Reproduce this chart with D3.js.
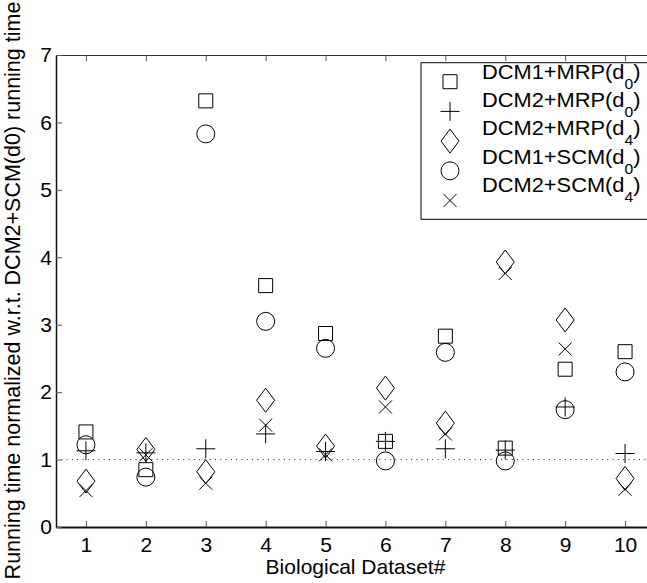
<!DOCTYPE html>
<html>
<head>
<meta charset="utf-8">
<script src="https://cdn.jsdelivr.net/npm/d3@7"></script>
<style>
  html, body { margin: 0; padding: 0; background: #fff; }
  svg { display: block; }
  text { font-family: "Liberation Sans", Arial, Helvetica, sans-serif; fill: #000; }
</style>
</head>
<body>
<svg id="chart" width="647" height="583"></svg>
<script>
// Dataset indices on the x axis
const datasets = [1, 2, 3, 4, 5, 6, 7, 8, 9, 10];
const xTicks = [1, 2, 3, 4, 5, 6, 7, 8, 9, 10];
const yTicks = [0, 1, 2, 3, 4, 5, 6, 7];

// Running times, normalized w.r.t. DCM2+SCM(d0)
const dcm1MrpD0 = [1.41, 0.85, 6.32, 3.58, 2.87, 1.27, 2.83, 1.17, 2.34, 2.60];
const dcm2MrpD0 = [1.13, 1.10, 1.16, 1.38, 1.12, 1.27, 1.16, 1.14, 1.78, 1.09];
const dcm2MrpD4 = [0.68, 1.15, 0.82, 1.88, 1.20, 2.06, 1.54, 3.93, 3.07, 0.72];
const dcm1ScmD0 = [1.22, 0.74, 5.83, 3.05, 2.65, 0.98, 2.59, 0.98, 1.74, 2.30];
const dcm2ScmD4 = [0.54, 1.07, 0.65, 1.51, 1.07, 1.78, 1.38, 3.76, 2.64, 0.56];

// Legend entries: label, subscript, marker
const legendNames = ["DCM1+MRP(d", "DCM2+MRP(d", "DCM2+MRP(d", "DCM1+SCM(d", "DCM2+SCM(d"];
const legendSubs = ["0", "0", "4", "0", "4"];
const markerKinds = ["square", "plus", "diamond", "circle", "cross"];
const seriesValues = [dcm1MrpD0, dcm2MrpD0, dcm2MrpD4, dcm1ScmD0, dcm2ScmD4];

const svg = d3.select("#chart");
const plotLeft = 56, plotRight = 655, plotTop = 55, plotBottom = 527;

const x = d3.scaleLinear().domain([0.5, 10.5]).range([plotLeft, plotRight]);
const y = d3.scaleLinear().domain([0, 7]).range([plotBottom, plotTop]);

// MATLAB-style open marker outlines centred on (cx, cy)
function markerPath(kind, cx, cy) {
  const p = d3.path();
  if (kind === "square") {
    const h = 7;
    p.rect(cx - h, cy - h, 2 * h, 2 * h);
  } else if (kind === "circle") {
    const r = 9;
    p.moveTo(cx + r, cy);
    p.arc(cx, cy, r, 0, 2 * Math.PI);
  } else if (kind === "diamond") {
    const w = 9, h = 12;
    p.moveTo(cx, cy - h);
    p.lineTo(cx + w, cy);
    p.lineTo(cx, cy + h);
    p.lineTo(cx - w, cy);
    p.closePath();
  } else if (kind === "plus") {
    const h = 9.5;
    p.moveTo(cx - h, cy); p.lineTo(cx + h, cy);
    p.moveTo(cx, cy - h); p.lineTo(cx, cy + h);
  } else if (kind === "cross") {
    const h = 6.5;
    p.moveTo(cx - h, cy - h); p.lineTo(cx + h, cy + h);
    p.moveTo(cx - h, cy + h); p.lineTo(cx + h, cy - h);
  }
  return p.toString();
}

// Reference line at normalized time 1
svg.append("line")
  .attr("x1", plotLeft).attr("x2", plotRight)
  .attr("y1", y(1)).attr("y2", y(1))
  .attr("stroke", "#222").attr("stroke-width", 1)
  .attr("stroke-dasharray", "1,4.3");

// Axes with inward ticks
const fontTick = 21;
const gx = svg.append("g").attr("transform", `translate(0,${plotBottom})`)
  .call(d3.axisBottom(x).tickValues(xTicks).tickFormat(d3.format("d"))
    .tickSizeInner(-6).tickSizeOuter(0).tickPadding(10));
const gxTop = svg.append("g").attr("transform", `translate(0,${plotTop})`)
  .call(d3.axisTop(x).tickValues(xTicks).tickSizeInner(-6).tickSizeOuter(0).tickFormat(""));
const gy = svg.append("g").attr("transform", `translate(${plotLeft},0)`)
  .call(d3.axisLeft(y).tickValues(yTicks).tickFormat(d3.format("d"))
    .tickSizeInner(-6).tickSizeOuter(0).tickPadding(4));
const gyRight = svg.append("g").attr("transform", `translate(${plotRight},0)`)
  .call(d3.axisRight(y).tickValues(yTicks).tickSizeInner(-6).tickSizeOuter(0).tickFormat(""));

[gx, gxTop, gy, gyRight].forEach(g => {
  g.selectAll("text").attr("font-size", fontTick)
    .attr("font-family", '"Liberation Sans", Arial, Helvetica, sans-serif').attr("fill", "#000");
  g.selectAll(".tick line").attr("stroke", "#555").attr("stroke-width", 1);
});
gx.select(".domain").attr("stroke", "#111").attr("stroke-width", 2);
gy.select(".domain").attr("stroke", "#111").attr("stroke-width", 1.5);
gxTop.select(".domain").attr("stroke", "#333").attr("stroke-width", 1);
gyRight.select(".domain").attr("stroke", "#333").attr("stroke-width", 1);

// Data markers
markerKinds.forEach((kind, si) => {
  svg.append("g").selectAll("path")
    .data(datasets.map((d, i) => ({ d, v: seriesValues[si][i] })))
    .join("path")
    .attr("d", p => markerPath(kind, x(p.d), y(p.v)))
    .attr("fill", "none").attr("stroke", "#000").attr("stroke-width", 1);
});

// Axis titles
svg.append("text")
  .attr("x", (plotLeft + plotRight) / 2).attr("y", 574)
  .attr("text-anchor", "middle").attr("font-size", 21)
  .text("Biological Dataset#");

svg.append("text")
  .attr("transform", "translate(20,290.5) rotate(-90)")
  .attr("text-anchor", "middle").attr("font-size", 21.5)
  .text("Running time normalized w.r.t. DCM2+SCM(d0) running time");

// Legend
const lg = svg.append("g");
lg.append("rect")
  .attr("x", 421).attr("y", 62.7).attr("width", 231).attr("height", 156.6)
  .attr("fill", "#fff").attr("stroke", "#000").attr("stroke-width", 1);
legendNames.forEach((name, i) => {
  lg.append("path")
    .attr("d", markerPath(markerKinds[i], 450, 81.7 + 29.7 * i))
    .attr("fill", "none").attr("stroke", "#000").attr("stroke-width", 1);
  const t = lg.append("text")
    .attr("transform", `translate(482,${79 + 28.2 * i}) scale(1.12,1)`)
    .attr("font-size", 19.5);
  t.append("tspan").text(name);
  t.append("tspan").attr("font-size", 14).attr("dy", 10).text(legendSubs[i]);
  t.append("tspan").attr("dy", -10).text(")");
});
</script>
</body>
</html>
